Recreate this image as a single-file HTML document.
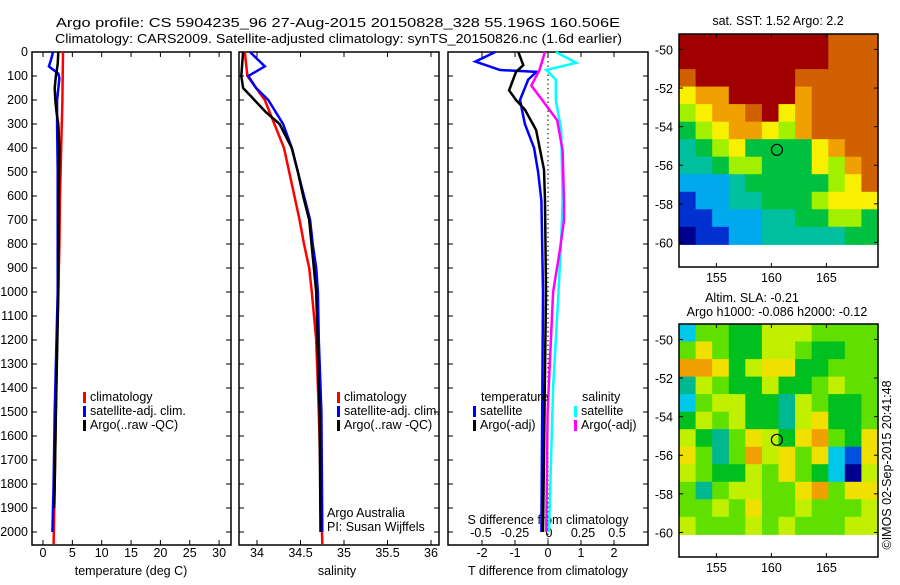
<!DOCTYPE html>
<html><head><meta charset="utf-8"><style>
body{margin:0;background:#fff}
svg text{font-family:"Liberation Sans",sans-serif;font-size:12.5px;fill:#000}
</style></head><body>
<svg id="c" width="900" height="580" xmlns="http://www.w3.org/2000/svg">
<text x="56" y="27" font-size="15.5" textLength="564" lengthAdjust="spacingAndGlyphs">Argo profile: CS 5904235_96 27-Aug-2015 20150828_328 55.196S 160.506E</text>
<text x="55" y="43" font-size="15.5" textLength="567" lengthAdjust="spacingAndGlyphs">Climatology: CARS2009. Satellite-adjusted climatology: synTS_20150826.nc (1.6d earlier)</text>
<g id="g"></g>
</svg>
<script>
// ---- data ----
const depthTicks=[0,100,200,300,400,500,600,700,800,900,1000,1100,1200,1300,1400,1500,1600,1700,1800,1900,2000];
const tempTicks=[0,5,10,15,20,25,30];
const salTicks=[34,34.5,35,35.5,36];
const tdTicks=[-2,-1,0,1,2];
const sdTicks=[-0.5,-0.25,0,0.25,0.5];
const tClimD=[0,200,400,600,800,1000,1200,1500,1800,2050];
const tClimV=[3.4,3.3,3.1,2.9,2.8,2.6,2.4,2.2,2.0,1.8];
const tSatD=[0,30,60,90,110,200,300,500,1000,1300,1500,1800,2000];
const tSatV=[1.7,1.4,1.0,2.6,2.8,2.4,2.4,2.5,2.5,2.2,2.0,1.8,1.6];
const tArgD=[0,50,100,150,200,250,300,400,600,1000,1500,1800,1900];
const tArgV=[2.6,2.5,2.2,2.0,2.1,2.3,2.6,2.8,2.7,2.6,2.2,2.0,1.9];
const sClimD=[0,100,200,300,400,500,600,700,800,900,1000,1200,1500,2050];
const sClimV=[33.86,33.89,34.09,34.2,34.31,34.37,34.43,34.49,34.54,34.6,34.63,34.68,34.71,34.75];
const sSatD=[0,60,100,150,200,300,400,500,600,700,800,900,1000,1200,1500,2000];
const sSatV=[33.92,34.09,33.9,33.99,34.13,34.3,34.4,34.47,34.54,34.61,34.64,34.68,34.7,34.71,34.74,34.75];
const sArgD=[0,100,150,180,200,250,300,400,500,600,700,1000,1500,2000];
const sArgV=[33.84,33.82,33.84,33.92,33.97,34.1,34.26,34.4,34.47,34.53,34.6,34.68,34.72,34.73];
const dTSatD=[0,40,75,83,115,200,300,400,500,620,1000,2000];
const dTSatV=[-1.6,-2.2,-1.45,-0.35,-0.6,-0.85,-0.7,-0.42,-0.3,-0.2,-0.15,-0.2];
const dTArgD=[0,55,83,160,200,240,325,490,620,1000,2000];
const dTArgV=[-0.9,-0.75,-0.97,-1.18,-0.97,-0.7,-0.36,-0.12,-0.09,-0.06,-0.15];
const dSSatD=[0,45,75,115,200,325,620,780,1000,1400,2000];
const dSSatV=[0.05,0.2,-0.02,0.05,0.05,0.09,0.1,0.09,0.07,0.03,0.0];
const dSArgD=[0,75,140,200,285,410,620,700,825,1000,1500,2000];
const dSArgV=[-0.03,-0.07,-0.13,-0.05,0.06,0.1,0.11,0.11,0.08,0.03,-0.01,-0.02];
const lonTicks=[155,160,165];
const latTicks=[-50,-52,-54,-56,-58,-60];
const sstRows=["999999999888","999999999888","899999988888","677999978888","567789678888","456776578888","345644446788","334554446578","222344444568","122334445666","112223344554","011223333344"];
const slaRows=["255446665555","575446654455","887467744555","365446445655","256644365445","465644367445","643576478547","753586757217","654465754206","535665578577","556575565556","655565655566"];
const sstColors=['#00008f','#0030d0','#00a8ee','#00c0a0','#00c040','#a0f000','#f8f000','#f0a000','#d06000','#a00000'];
const slaColors=['#000090','#0050e0','#00c8e8','#00b890','#00c020','#60e000','#c0f000','#f0e000','#f0a000'];

// ---- helpers ----
const NS="http://www.w3.org/2000/svg", G=document.getElementById('g');
function mk(t,a,txt){const e=document.createElementNS(NS,t);for(const k in a)e.setAttribute(k,a[k]);if(txt!==undefined)e.textContent=txt;G.appendChild(e);return e;}
const Y=d=>52+d*0.24;
const TOP=52,BOT=545;
function panel(x0,x1,name){
  const r=mk('rect',{x:x0,y:TOP,width:x1-x0,height:BOT-TOP,fill:'none',stroke:'#000','stroke-width':1.5});
  
  
  depthTicks.forEach(d=>{mk('line',{x1:x0,x2:x0+5,y1:Y(d),y2:Y(d),stroke:'#000'});mk('line',{x1:x1-5,x2:x1,y1:Y(d),y2:Y(d),stroke:'#000'});});
}
function xticks(ticks,fx,y0,ly,lbl,name){
  ticks.forEach(v=>{const x=fx(v);mk('line',{x1:x,x2:x,y1:BOT-5,y2:BOT,stroke:'#000'});mk('line',{x1:x,x2:x,y1:TOP,y2:TOP+5,stroke:'#000'});
   const t=mk('text',{x:x,y:ly,'text-anchor':'middle'},String(v));
   
   });
}
function line(D,V,fx,col,name){
  const p=mk('polyline',{points:D.map((d,i)=>fx(V[i]).toFixed(1)+','+Y(d).toFixed(1)).join(' '),fill:'none',stroke:col,'stroke-width':2.5});
  
  
}
function legend(x,y,col,label,name){
  mk('rect',{x:x,y:y-9,width:3,height:11,fill:col});
  const t=mk('text',{x:x+7,y:y},label);
  
  
}
depthTicks.forEach(d=>{const t=mk('text',{x:28,y:Y(d)+4,'text-anchor':'end'},String(d));
 
 });

const fT=v=>43+v*5.87;
panel(32,231,'temperature-panel');
xticks(tempTicks,fT,BOT,557,'x','temperature-axis');
mk('text',{x:131,y:575,'text-anchor':'middle'},'temperature (deg C)');
line(tClimD,tClimV,fT,'#f00','temp-climatology-line');
line(tSatD,tSatV,fT,'#00f','temp-satellite-line');
line(tArgD,tArgV,fT,'#000','temp-argo-line');
legend(83,401,'#f00','climatology','legend-climatology');
legend(83,415,'#00f','satellite-adj. clim.','legend-satellite');
legend(83,429,'#000','Argo(..raw -QC)','legend-argo');

const fS=v=>257+(v-34)*87;
panel(239,439,'salinity-panel');
xticks(salTicks,fS,BOT,557,'x','salinity-axis');
mk('text',{x:337,y:575,'text-anchor':'middle'},'salinity');
line(sClimD,sClimV,fS,'#f00','sal-climatology-line');
line(sSatD,sSatV,fS,'#00f','sal-satellite-line');
line(sArgD,sArgV,fS,'#000','sal-argo-line');
legend(337,401,'#f00','climatology','legend-climatology-2');
legend(337,415,'#00f','satellite-adj. clim.','legend-satellite-2');
legend(337,429,'#000','Argo(..raw -QC)','legend-argo-2');
mk('text',{x:327,y:517},'Argo Australia');
mk('text',{x:327,y:531},'PI: Susan Wijffels');

const fDT=v=>548+v*33, fDS=v=>549+v*136;
panel(448,648,'difference-panel');
xticks(tdTicks,fDT,BOT,557,'x','tdiff-axis');
mk('line',{x1:548,x2:548,y1:TOP,y2:BOT,stroke:'#000','stroke-dasharray':'1.5,3'});
sdTicks.forEach(v=>{const t=mk('text',{x:fDS(v),y:537,'text-anchor':'middle'},String(v));
 
 });
mk('text',{x:548,y:524,'text-anchor':'middle'},'S difference from climatology');
mk('text',{x:548,y:575,'text-anchor':'middle'},'T difference from climatology');
line(dTSatD,dTSatV,fDT,'#00f','tdiff-satellite-line');
line(dTArgD,dTArgV,fDT,'#000','tdiff-argo-line');
line(dSSatD,dSSatV,fDS,'#0ff','sdiff-satellite-line');
line(dSArgD,dSArgV,fDS,'#f0f','sdiff-argo-line');
mk('text',{x:481,y:401},'temperature');
mk('text',{x:582,y:401},'salinity');
legend(473,415,'#00f','satellite','legend-tsat');
legend(473,429,'#000','Argo(-adj)','legend-targo');
legend(574,415,'#0ff','satellite','legend-ssat');
legend(574,429,'#f0f','Argo(-adj)','legend-sargo');

const mLon=v=>679+(v-151.6)*11, mLat=(v,y0)=>y0+(-49.2-v)*19.3;
function map(y0,rows,cols,name){
  const x0=679,x1=878,h=233;
  const nr=rows.length,nc=rows[0].length;
  const lat1=-60.1;
  const cw=(x1-x0)/nc, ch=(mLat(lat1,y0)-y0)/nr;
  rows.forEach((r,i)=>{for(let j=0;j<nc;j++){
    const c=mk('rect',{x:(x0+j*cw).toFixed(1),y:(y0+i*ch).toFixed(1),width:(cw+0.6).toFixed(1),height:(ch+0.6).toFixed(1),fill:cols[+r[j]]});
    
    }});
  const b=mk('rect',{x:x0,y:y0,width:x1-x0,height:h,fill:'none',stroke:'#000','stroke-width':1.5});
  
  
  lonTicks.forEach(v=>{const x=mLon(v);mk('line',{x1:x,x2:x,y1:y0,y2:y0+4,stroke:'#000'});mk('line',{x1:x,x2:x,y1:y0+h-4,y2:y0+h,stroke:'#000'});
    mk('text',{x:x,y:y0+h+15,'text-anchor':'middle',"font-size":13},String(v));});
  latTicks.forEach(v=>{const y=mLat(v,y0);mk('line',{x1:x0,x2:x0+4,y1:y,y2:y,stroke:'#000'});mk('line',{x1:x1-4,x2:x1,y1:y,y2:y,stroke:'#000'});
    mk('text',{x:673,y:y+5,'text-anchor':'end',"font-size":13},String(v));});
  const c=mk('circle',{cx:mLon(160.5),cy:mLat(-55.2,y0),r:5.5,fill:'none',stroke:'#000','stroke-width':1.2});
  
  
}
map(34,sstRows,sstColors,'sst-map');
map(324,slaRows,slaColors,'sla-map');
mk('text',{x:778,y:25,'text-anchor':'middle'},'sat. SST: 1.52 Argo: 2.2');
mk('text',{x:752,y:302,'text-anchor':'middle'},'Altim. SLA: -0.21');
mk('text',{x:777,y:316,'text-anchor':'middle'},'Argo h1000: -0.086 h2000: -0.12');
mk('text',{x:0,y:0,transform:'translate(891,465) rotate(-90)','text-anchor':'middle'},'©IMOS 02-Sep-2015 20:41:48');
</script>
</body></html>
